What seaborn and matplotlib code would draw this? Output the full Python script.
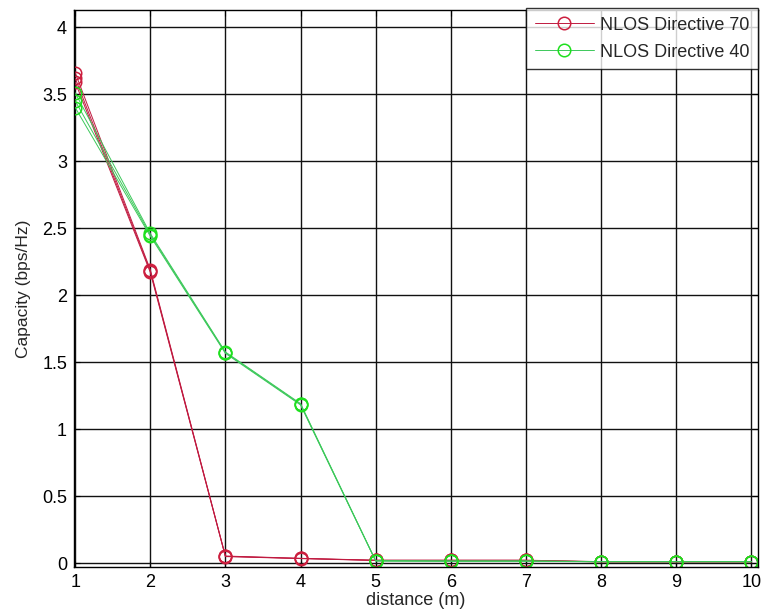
import matplotlib
matplotlib.use("Agg")
import matplotlib.pyplot as plt
import seaborn as sns
import pandas as pd

# Measured channel capacity versus distance, three repeated runs per antenna setup
distance = [1, 2, 3, 4, 5, 6, 7, 8, 9, 10]

nlos70_run1 = [3.66, 2.19, 0.052, 0.035, 0.021, 0.021, 0.021, 0.010, 0.010, 0.010]
nlos70_run2 = [3.62, 2.18, 0.050, 0.034, 0.020, 0.020, 0.020, 0.009, 0.009, 0.009]
nlos70_run3 = [3.59, 2.17, 0.048, 0.033, 0.019, 0.019, 0.019, 0.008, 0.008, 0.008]

nlos40_run1 = [3.51, 2.46, 1.575, 1.190, 0.017, 0.015, 0.015, 0.011, 0.011, 0.011]
nlos40_run2 = [3.45, 2.45, 1.570, 1.185, 0.016, 0.014, 0.014, 0.010, 0.010, 0.010]
nlos40_run3 = [3.40, 2.44, 1.565, 1.180, 0.015, 0.013, 0.013, 0.009, 0.009, 0.009]

series_names = ["NLOS Directive 70", "NLOS Directive 40"]
line_colors = ["#c01a40", "#3cc85a"]
marker_colors = ["#cc1f3f", "#1ee01e"]
series_runs = [[nlos70_run1, nlos70_run2, nlos70_run3],
               [nlos40_run1, nlos40_run2, nlos40_run3]]

x_ticks = [1, 2, 3, 4, 5, 6, 7, 8, 9, 10]
y_ticks = [0, 0.5, 1, 1.5, 2, 2.5, 3, 3.5, 4]
y_tick_labels = ["0", "0.5", "1", "1.5", "2", "2.5", "3", "3.5", "4"]

rows = []
for name, runs in zip(series_names, series_runs):
    for r, vals in enumerate(runs):
        for d, v in zip(distance, vals):
            rows.append({"distance": d, "capacity": v, "series": name, "run": r})
df = pd.DataFrame(rows)

sns.set_theme(style="white")
plt.rcParams["font.family"] = ["Liberation Sans", "DejaVu Sans"]

fig = plt.figure(figsize=(7.64, 6.14), dpi=100)
ax = fig.add_axes([0.0969, 0.0765, 0.8953, 0.907])

for name, lc, mc in zip(series_names, line_colors, marker_colors):
    sub = df[df["series"] == name]
    for r, grp in sub.groupby("run"):
        sns.lineplot(data=grp, x="distance", y="capacity", ax=ax,
                     color=lc, lw=0.7, marker="o", ms=9,
                     mfc="none", mec=mc, mew=1.1,
                     label=name if r == 0 else None, legend=False)

ax.set_xlim(0.985, 10.09)
ax.set_ylim(-0.03, 4.127)
ax.set_xticks(x_ticks)
ax.set_xticklabels([str(t) for t in x_ticks])
ax.set_yticks(y_ticks)
ax.set_yticklabels(y_tick_labels)
ax.grid(True, color="#111111", lw=1.0)
ax.set_axisbelow(True)
for s in ax.spines.values():
    s.set_color("black")
    s.set_linewidth(1.0)
ax.tick_params(direction="in", length=4, width=0.8, colors="black",
               labelsize=13, top=True, right=True, bottom=True, left=True,
               pad=5)
ax.set_xlabel("distance (m)", fontsize=13, labelpad=1)
ax.set_ylabel("Capacity (bps/Hz)", fontsize=12.5, labelpad=8)

handles, labels = ax.get_legend_handles_labels()
leg = ax.legend(handles, labels, loc="upper right", bbox_to_anchor=(1.0, 1.003),
                borderaxespad=0, fontsize=13, handlelength=3.3,
                frameon=True, fancybox=False, edgecolor="black",
                borderpad=0.45, labelspacing=0.55, handletextpad=0.35)
leg.get_frame().set_linewidth(1.0)

fig.savefig("out.png", dpi=100, facecolor="white")
